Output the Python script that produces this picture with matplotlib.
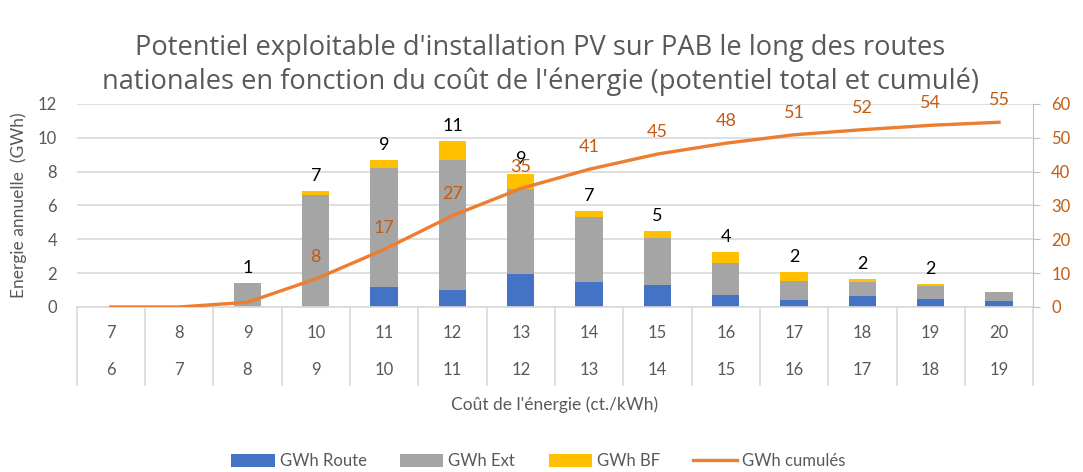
import numpy as np
import matplotlib.pyplot as plt
from matplotlib.lines import Line2D
import matplotlib.transforms as mtransforms

plt.rcParams['font.family'] = ['Lato', 'DejaVu Sans']

# Data
cout_haut = [7, 8, 9, 10, 11, 12, 13, 14, 15, 16, 17, 18, 19, 20]
cout_bas = [6, 7, 8, 9, 10, 11, 12, 13, 14, 15, 16, 17, 18, 19]
gwh_route = [0, 0, 0, 0, 1.2, 1.0, 1.95, 1.45, 1.3, 0.7, 0.4, 0.65, 0.5, 0.35]
gwh_ext = [0, 0, 1.4, 6.63, 7.0, 7.7, 5.0, 3.85, 2.8, 1.9, 1.15, 0.8, 0.75, 0.55]
gwh_bf = [0, 0, 0, 0.23, 0.5, 1.1, 0.9, 0.4, 0.4, 0.67, 0.5, 0.23, 0.1, 0]
labels_total = ['', '', '1', '7', '9', '11', '9', '7', '5', '4', '2', '2', '2', '']
gwh_cumules = [0, 0, 1.4, 8.3, 17, 27, 35, 40.7, 45.2, 48.4, 50.9, 52.4, 53.7, 54.6]
labels_cumules = ['', '', '', '8', '17', '27', '35', '41', '45', '48', '51', '52', '54', '55']

BLUE = '#4472C4'
GREY = '#A5A5A5'
YELLOW = '#FFC000'
ORANGE = '#ED7D31'
DARK_ORANGE = '#C55A11'
TXT = '#595959'
GRID = '#D9D9D9'

fig = plt.figure(figsize=(10.83, 4.72), dpi=100)
ax = fig.add_axes([0.0708, 0.3496, 0.8832, 0.4301])
ax2 = ax.twinx()

x = np.arange(len(cout_haut))
route = np.array(gwh_route)
ext = np.array(gwh_ext)
bf = np.array(gwh_bf)
w = 0.4

ax.bar(x, route, w, color=BLUE, label='GWh Route', zorder=2)
ax.bar(x, ext, w, bottom=route, color=GREY, label='GWh Ext', zorder=2)
ax.bar(x, bf, w, bottom=route + ext, color=YELLOW, label='GWh BF', zorder=2)

total = route + ext + bf
for xi, t, lab in zip(x, total, labels_total):
    if lab:
        ax.annotate(lab, (xi, t), xytext=(0, 5), textcoords='offset points',
                    ha='center', va='bottom', fontsize=13, color='black', zorder=5)

ax.set_xlim(-0.5, len(x) - 0.5)
ax.set_ylim(0, 12)
ax.set_yticks(np.arange(0, 13, 2))
ax.yaxis.grid(True, color=GRID, linewidth=1.2, zorder=0)
ax.set_axisbelow(True)
ax.tick_params(axis='y', length=0, pad=14, labelsize=12, labelcolor=TXT)
ax.set_xticks([])
for s in ['top', 'left', 'right']:
    ax.spines[s].set_visible(False)
ax.spines['bottom'].set_color(GRID)
ax.spines['bottom'].set_linewidth(1.2)

ax2.plot(x, gwh_cumules, color=ORANGE, linewidth=2.4, label='GWh cumulés', zorder=4)
for xi, v, lab in zip(x, gwh_cumules, labels_cumules):
    if lab:
        ax2.annotate(lab, (xi, v), xytext=(0, 10), textcoords='offset points',
                     ha='center', va='bottom', fontsize=13, color=DARK_ORANGE)
ax2.set_ylim(0, 60)
ax2.set_yticks(np.arange(0, 61, 10))
ax2.tick_params(axis='y', length=5, color='#BFBFBF', pad=8, labelsize=12, labelcolor=DARK_ORANGE)
for s in ['top', 'left', 'bottom']:
    ax2.spines[s].set_visible(False)
ax2.spines['right'].set_color('#BFBFBF')

# multi-level category axis
trans = mtransforms.blended_transform_factory(ax.transData, ax.transAxes)
for b in np.arange(-0.5, len(x), 1.0):
    ax.add_line(Line2D([b, b], [0, -0.384], transform=trans, color=GRID,
                       linewidth=1.2, clip_on=False))
for xi, h, l in zip(x, cout_haut, cout_bas):
    ax.text(xi, -0.128, str(h), transform=trans, ha='center', va='center',
            fontsize=12, color=TXT)
    ax.text(xi, -0.31, str(l), transform=trans, ha='center', va='center',
            fontsize=12, color=TXT)
ax.text(0.5, -0.483, "Coût de l'énergie (ct./kWh)", transform=ax.transAxes,
        ha='center', va='center', fontsize=12.5, color=TXT)

fig.text(0.017, 1 - 205 / 472, 'Energie annuelle  (GWh)', rotation=90,
         ha='center', va='center', fontsize=12.5, color=TXT)

fig.text(0.499, 1 - 65 / 472,
         "Potentiel exploitable d'installation PV sur PAB le long des routes\n"
         "nationales en fonction du coût de l'énergie (potentiel total et cumulé)",
         ha='center', va='center', fontsize=19.6, color=TXT, linespacing=1.3,
         family=['Open Sans', 'DejaVu Sans'])

h1, l1 = ax.get_legend_handles_labels()
h2, l2 = ax2.get_legend_handles_labels()
fig.legend(h1 + h2, l1 + l2, loc='center', bbox_to_anchor=(0.497, 1 - 461 / 472),
           ncol=4, frameon=False, fontsize=12, labelcolor=TXT,
           handlelength=2.6, handleheight=0.8, columnspacing=2.0, handletextpad=0.3)

fig.savefig('out.png', dpi=100)
